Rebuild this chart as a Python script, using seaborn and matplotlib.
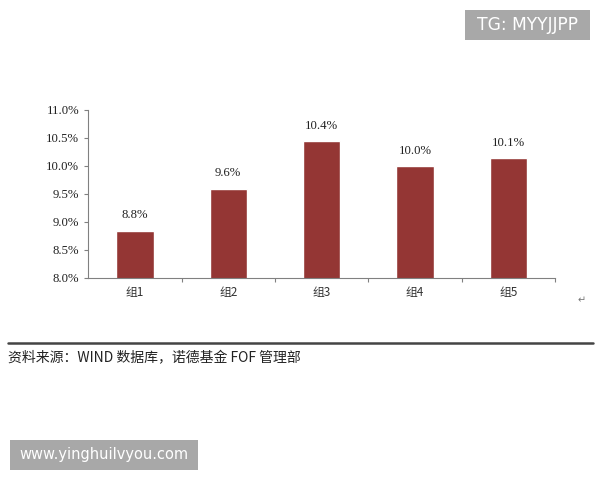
import pandas as pd
import matplotlib
matplotlib.use("Agg")
import matplotlib.pyplot as plt
import seaborn as sns
from matplotlib.patches import Rectangle
from matplotlib.ticker import FuncFormatter, MultipleLocator, FixedLocator

# data
groups = ["组1", "组2", "组3", "组4", "组5"]
returns = [8.84, 9.59, 10.44, 9.99, 10.14]

df = pd.DataFrame({"group": groups, "ret": returns})

sns.set_theme(style="ticks")
plt.rcParams["font.family"] = ["Liberation Serif", "Noto Sans CJK SC", "DejaVu Sans"]

fig = plt.figure(figsize=(6, 4.8), dpi=100)
ax = fig.add_axes([0.147, 0.421, 0.778, 0.35])

sns.barplot(data=df, x="group", y="ret", color="#943634", saturation=1,
            width=0.4, ax=ax)

ax.set_ylim(8.0, 11.0)
ax.set_xlim(-0.5, len(groups) - 0.5)
ax.yaxis.set_major_locator(MultipleLocator(0.5))
ax.yaxis.set_major_formatter(FuncFormatter(lambda v, p: f"{v:.1f}%"))
ax.set_xlabel("")
ax.set_ylabel("")

# value labels
for i, v in enumerate(returns):
    ax.text(i, v + 0.17, f"{v:.1f}%", ha="center", va="bottom", fontsize=9.2,
            family=["Liberation Serif", "DejaVu Sans"], color="#222222")

sns.despine(ax=ax)
for s in ["left", "bottom"]:
    ax.spines[s].set_color("#808080")
    ax.spines[s].set_linewidth(0.8)

ax.tick_params(axis="y", labelsize=9.2, length=3, color="#808080", width=0.8,
               labelcolor="#222222")
ax.tick_params(axis="x", which="major", length=0, labelsize=8.5, pad=6,
               labelcolor="#333333")
ax.xaxis.set_minor_locator(FixedLocator([0.5, 1.5, 2.5, 3.5, 4.5]))
ax.tick_params(axis="x", which="minor", length=3, color="#808080", width=0.8)
for lab in ax.get_xticklabels():
    lab.set_family(["Noto Sans CJK SC", "DejaVu Sans"])

# source line and text
fig.add_artist(plt.Line2D([0.013, 0.988], [1 - 343 / 480, 1 - 343 / 480],
                          color="#444444", linewidth=1.8))
fig.text(0.013, 1 - 358 / 480, "资料来源：WIND 数据库，诺德基金 FOF 管理部",
         fontsize=10, va="center", ha="left", style="italic",
         family=["Noto Sans CJK SC", "DejaVu Sans"], color="#222222")
fig.text(0.962, 1 - 300 / 480, "↵", fontsize=7, color="#777777",
         family=["DejaVu Sans"], va="center")

# watermarks
fig.add_artist(Rectangle((465 / 600, 1 - 40 / 480), 125 / 600, 30 / 480,
                         transform=fig.transFigure, fc="#a8a8a8", ec="none"))
fig.text(527.5 / 600, 1 - 25 / 480, "TG: MYYJJPP", fontsize=12.3, color="white",
         ha="center", va="center", family=["DejaVu Sans"])
fig.add_artist(Rectangle((10 / 600, 1 - 470 / 480), 188 / 600, 30 / 480,
                         transform=fig.transFigure, fc="#a8a8a8", ec="none"))
fig.text(104 / 600, 1 - 455 / 480, "www.yinghuilvyou.com", fontsize=10.5,
         color="white", ha="center", va="center", family=["DejaVu Sans"])

fig.savefig("out.png", dpi=100, facecolor="white")
